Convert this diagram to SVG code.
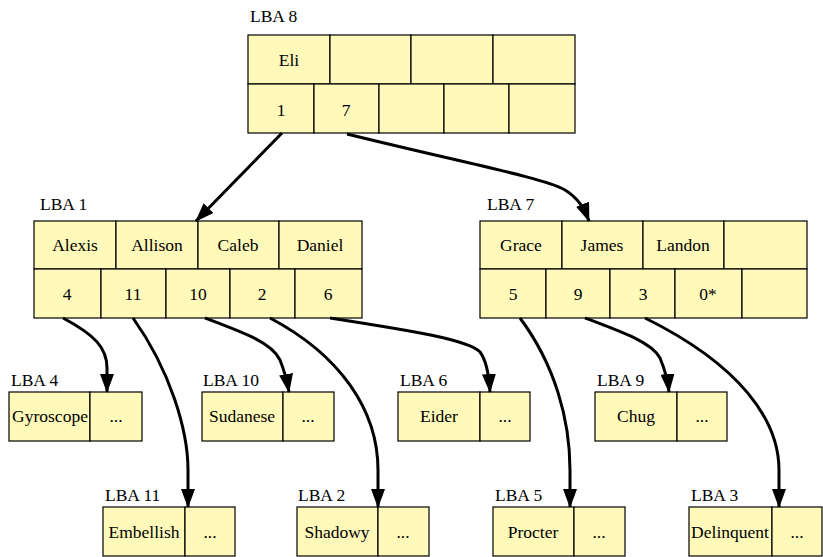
<svg xmlns="http://www.w3.org/2000/svg" width="823" height="557" viewBox="0 0 823 557">
<style>
.c{fill:#fff9ba;stroke:#000;stroke-width:1.2}
text{font-family:'Liberation Serif','DejaVu Serif',serif;font-size:17.5px;fill:#000}
.t{text-anchor:middle}
.e{fill:none;stroke:#000;stroke-width:3;marker-end:url(#ah)}
</style>
<defs>
<marker id="ah" markerUnits="userSpaceOnUse" markerWidth="19" markerHeight="14" refX="18" refY="7" orient="auto" viewBox="0 0 19 14">
<path d="M0,0 L19,7 L0,14 z" fill="#000"/>
</marker>
</defs>
<rect width="823" height="557" fill="#fff"/>

<g id="lba8">
<text x="250" y="22">LBA 8</text>
<rect class="c" x="248" y="35" width="82" height="49"/>
<rect class="c" x="330" y="35" width="81" height="49"/>
<rect class="c" x="411" y="35" width="82" height="49"/>
<rect class="c" x="493" y="35" width="82" height="49"/>
<rect class="c" x="248" y="84" width="66" height="49"/>
<rect class="c" x="314" y="84" width="65" height="49"/>
<rect class="c" x="379" y="84" width="65" height="49"/>
<rect class="c" x="444" y="84" width="65" height="49"/>
<rect class="c" x="509" y="84" width="66" height="49"/>
<text class="t" x="289" y="66">Eli</text>
<text class="t" x="281" y="116">1</text>
<text class="t" x="346" y="116">7</text>
</g>

<g id="lba1">
<text x="40" y="210">LBA 1</text>
<rect class="c" x="34" y="221" width="82" height="48"/>
<rect class="c" x="116" y="221" width="82" height="48"/>
<rect class="c" x="198" y="221" width="81" height="48"/>
<rect class="c" x="279" y="221" width="83" height="48"/>
<rect class="c" x="34" y="269" width="67" height="49"/>
<rect class="c" x="101" y="269" width="65" height="49"/>
<rect class="c" x="166" y="269" width="64" height="49"/>
<rect class="c" x="230" y="269" width="65" height="49"/>
<rect class="c" x="295" y="269" width="67" height="49"/>
<text class="t" x="75" y="251">Alexis</text>
<text class="t" x="157" y="251">Allison</text>
<text class="t" x="238" y="251">Caleb</text>
<text class="t" x="320" y="251">Daniel</text>
<text class="t" x="67" y="300">4</text>
<text class="t" x="133" y="300">11</text>
<text class="t" x="198" y="300">10</text>
<text class="t" x="262" y="300">2</text>
<text class="t" x="328" y="300">6</text>
</g>

<g id="lba7">
<text x="487" y="210">LBA 7</text>
<rect class="c" x="480" y="221" width="82" height="48"/>
<rect class="c" x="562" y="221" width="81" height="48"/>
<rect class="c" x="643" y="221" width="81" height="48"/>
<rect class="c" x="724" y="221" width="83" height="48"/>
<rect class="c" x="480" y="269" width="66" height="49"/>
<rect class="c" x="546" y="269" width="64" height="49"/>
<rect class="c" x="610" y="269" width="65" height="49"/>
<rect class="c" x="675" y="269" width="67" height="49"/>
<rect class="c" x="742" y="269" width="65" height="49"/>
<text class="t" x="521" y="251">Grace</text>
<text class="t" x="602" y="251">James</text>
<text class="t" x="683" y="251">Landon</text>
<text class="t" x="513" y="300">5</text>
<text class="t" x="578" y="300">9</text>
<text class="t" x="643" y="300">3</text>
<text class="t" x="708" y="300">0*</text>
</g>

<g id="lba4">
<text x="11" y="386">LBA 4</text>
<rect class="c" x="9" y="392" width="81" height="49"/>
<rect class="c" x="90" y="392" width="52" height="49"/>
<text class="t" x="50" y="422">Gyroscope</text>
<text class="t" x="116" y="422">...</text>
</g>

<g id="lba10">
<text x="203" y="386">LBA 10</text>
<rect class="c" x="202" y="392" width="81" height="49"/>
<rect class="c" x="283" y="392" width="51" height="49"/>
<text class="t" x="242" y="422">Sudanese</text>
<text class="t" x="308" y="422">...</text>
</g>

<g id="lba6">
<text x="400" y="386">LBA 6</text>
<rect class="c" x="398" y="392" width="82" height="49"/>
<rect class="c" x="480" y="392" width="50" height="49"/>
<text class="t" x="439" y="422">Eider</text>
<text class="t" x="505" y="422">...</text>
</g>

<g id="lba9">
<text x="597" y="386">LBA 9</text>
<rect class="c" x="595" y="392" width="82" height="49"/>
<rect class="c" x="677" y="392" width="50" height="49"/>
<text class="t" x="636" y="422">Chug</text>
<text class="t" x="702" y="422">...</text>
</g>

<g id="lba11">
<text x="105" y="501">LBA 11</text>
<rect class="c" x="103" y="507" width="82" height="49"/>
<rect class="c" x="185" y="507" width="50" height="49"/>
<text class="t" x="144" y="538">Embellish</text>
<text class="t" x="210" y="538">...</text>
</g>

<g id="lba2">
<text x="298" y="501">LBA 2</text>
<rect class="c" x="297" y="507" width="81" height="49"/>
<rect class="c" x="378" y="507" width="51" height="49"/>
<text class="t" x="337" y="538">Shadowy</text>
<text class="t" x="403" y="538">...</text>
</g>

<g id="lba5">
<text x="495" y="501">LBA 5</text>
<rect class="c" x="493" y="507" width="81" height="49"/>
<rect class="c" x="574" y="507" width="51" height="49"/>
<text class="t" x="533" y="538">Procter</text>
<text class="t" x="599" y="538">...</text>
</g>

<g id="lba3">
<text x="691" y="501">LBA 3</text>
<rect class="c" x="689" y="507" width="83" height="49"/>
<rect class="c" x="772" y="507" width="50" height="49"/>
<text class="t" x="730" y="538">Delinquent</text>
<text class="t" x="797" y="538">...</text>
</g>

<g id="connectors">
<path class="e" d="M282,133 L196,221"/>
<path class="e" d="M347,134 C460,162 545,178 565,190 C578,198 584,208 589,221"/>
<path class="e" d="M63,318 C95,335 107,348 107,368 L107,392"/>
<path class="e" d="M133,318 C170,370 188,430 188,470 L188,507"/>
<path class="e" d="M205,318 C245,333 272,343 280,360 C284,370 287,380 289,392"/>
<path class="e" d="M270,318 C340,355 378,410 378,470 L378,507"/>
<path class="e" d="M330,318 C420,332 468,340 480,352 C486,360 489,375 490,392"/>
<path class="e" d="M520,318 C555,365 570,420 570,470 L570,507"/>
<path class="e" d="M585,318 C625,333 652,343 660,358 C665,370 668,380 669,392"/>
<path class="e" d="M645,318 C740,365 779,420 779,470 L779,507"/>
</g>
</svg>
